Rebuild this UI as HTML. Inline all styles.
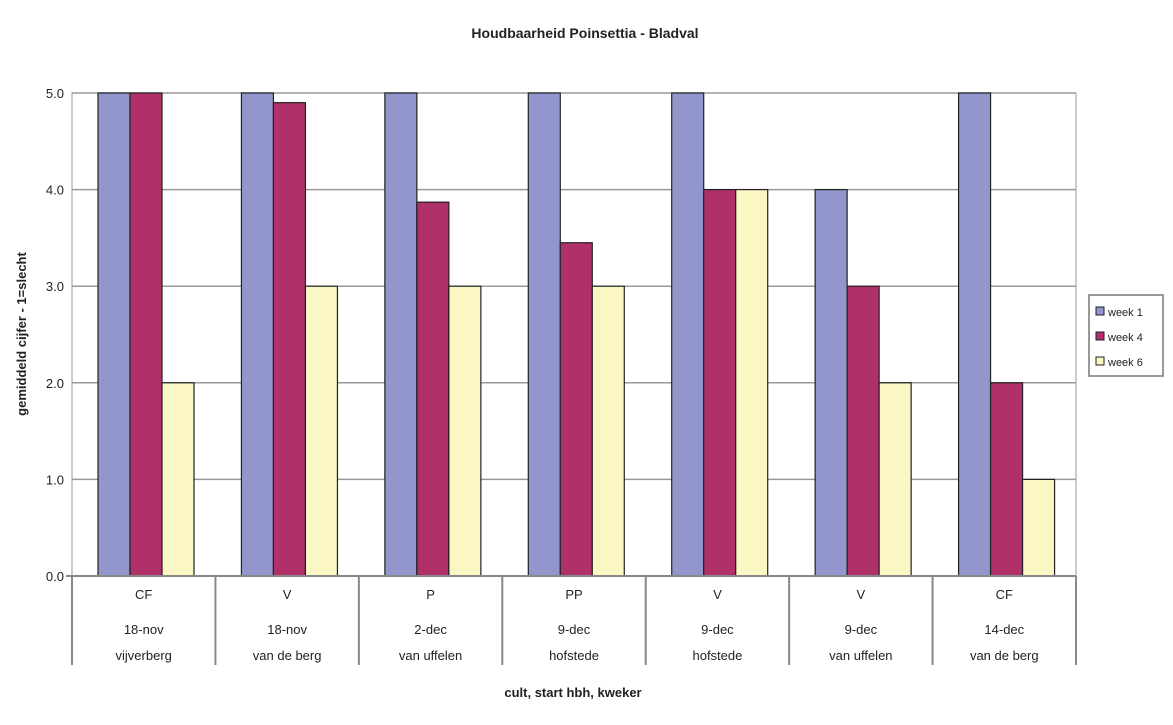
<!DOCTYPE html>
<html><head><meta charset="utf-8"><style>
body{margin:0;background:#fff;width:1173px;height:720px;overflow:hidden}
text{font-family:"Liberation Sans",sans-serif;fill:#222}
</style></head><body>
<svg id="c" width="1173" height="720"></svg>
<script>
const categories=[["CF","18-nov","vijverberg"],["V","18-nov","van de berg"],["P","2-dec","van uffelen"],["PP","9-dec","hofstede"],["V","9-dec","hofstede"],["V","9-dec","van uffelen"],["CF","14-dec","van de berg"]];
const seriesNames=["week 1","week 4","week 6"];
const week1=[5,5,5,5,5,4,5];
const week4=[5,4.9,3.87,3.45,4,3,2];
const week6=[2,3,3,3,4,2,1];
const ticks=[0,1,2,3,4,5];
const tickLabels=["0.0","1.0","2.0","3.0","4.0","5.0"];
const colors=["#9396cc","#b0306a","#fbf7c4"];
const svg=document.getElementById('c');const NS="http://www.w3.org/2000/svg";
function mk(t,a,p){const e=document.createElementNS(NS,t);for(const k in a)e.setAttribute(k,a[k]);(p||svg).appendChild(e);return e;}
const x0=72,x1=1076,yTop=93,yBot=576,ymax=5;
const y=v=>yBot-(v/ymax)*(yBot-yTop);
const gw=(x1-x0)/categories.length;
const bw=32;
const bx=(g,s)=>x0+g*gw+26+s*bw;
let e;
e=mk('text',{x:585,y:38,'text-anchor':'middle','font-size':14,'font-weight':'bold'});e.textContent="Houdbaarheid Poinsettia - Bladval";


mk('rect',{x:x0,y:yTop,width:x1-x0,height:yBot-yTop,fill:'#fff',stroke:'#999'});
ticks.forEach((t,i)=>{
 e=mk('line',{x1:x0,x2:x1,y1:y(t),y2:y(t),stroke:'#999','stroke-width':1.5});
 
 
 e=mk('text',{x:64,y:y(t)+5,'text-anchor':'end','font-size':13});e.textContent=tickLabels[i];
 
 
});
const data=[week1,week4,week6];
data.forEach((arr,s)=>arr.forEach((v,g)=>{
 e=mk('rect',{x:bx(g,s),y:y(v),width:bw,height:yBot-y(v),fill:colors[s],stroke:'#222','stroke-width':1.2});
 
 
}));
mk('line',{x1:x0-6,x2:x1,y1:yBot,y2:yBot,stroke:'#888','stroke-width':2});
for(let g=0;g<=categories.length;g++){
 e=mk('line',{x1:x0+g*gw,x2:x0+g*gw,y1:yBot,y2:665,stroke:'#888','stroke-width':2});
 
 
}
categories.forEach((c,g)=>{c.forEach((l,r)=>{
 e=mk('text',{x:x0+g*gw+gw/2,y:[599,634,660][r],'text-anchor':'middle','font-size':13});e.textContent=l;
 
 
});});
e=mk('text',{x:573,y:697,'text-anchor':'middle','font-size':13,'font-weight':'bold'});e.textContent="cult, start hbh, kweker";


e=mk('text',{x:0,y:0,'text-anchor':'middle','font-size':13,'font-weight':'bold',transform:'translate(26,334) rotate(-90)'});e.textContent="gemiddeld cijfer - 1=slecht";


const lg=mk('g',{});


mk('rect',{x:1089,y:295,width:74,height:81,fill:'#fff',stroke:'#777','stroke-width':1.5},lg);
seriesNames.forEach((n,i)=>{
 const yy=312+i*25;
 mk('rect',{x:1096,y:yy-5,width:8,height:8,fill:colors[i],stroke:'#222'},lg);
 e=mk('text',{x:1108,y:yy+4,'font-size':11},lg);e.textContent=n;
 
 
});
</script>
</body></html>
